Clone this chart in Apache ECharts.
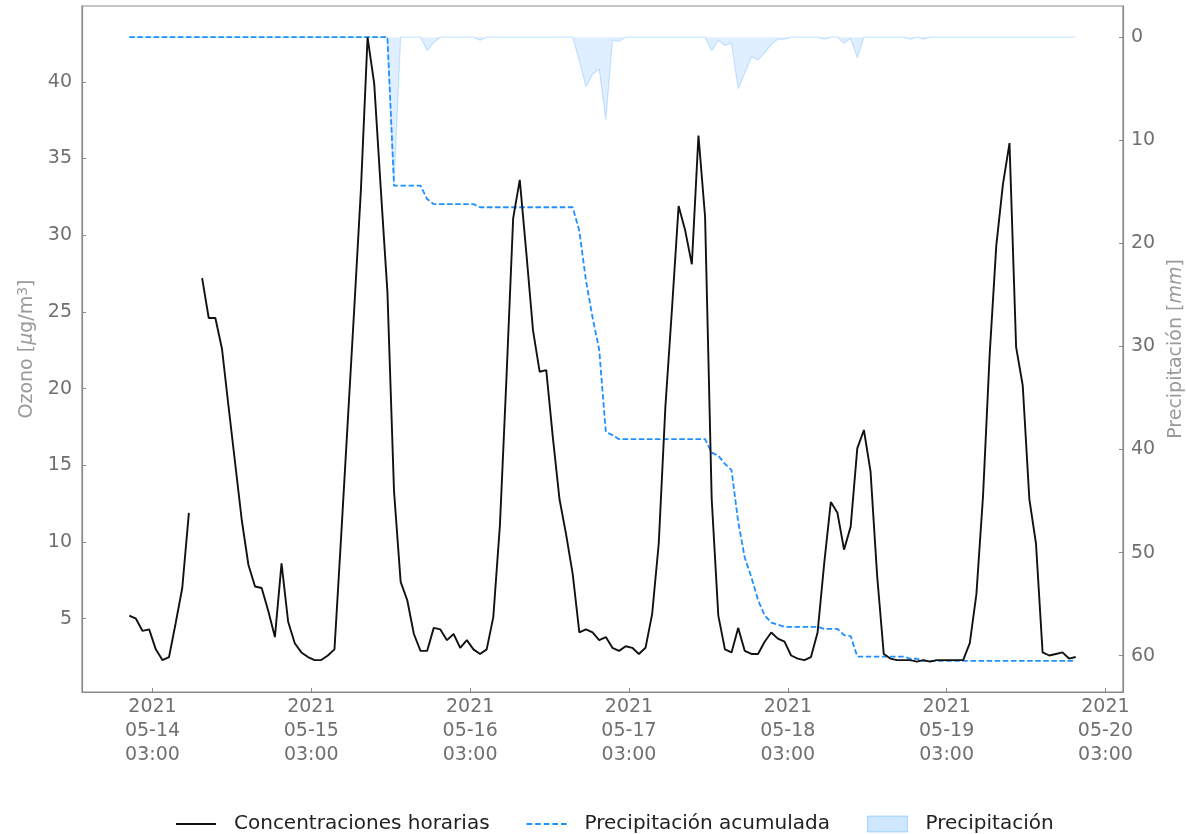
<!DOCTYPE html>
<html><head><meta charset="utf-8">
<script src="https://cdn.jsdelivr.net/npm/echarts@6/dist/echarts.min.js"></script>
<style>html,body{margin:0;padding:0;background:#fff}#c{width:1186px;height:834px}</style>
</head><body><div id="c"></div><script>
// hours since 2021-05-14 00:00 of first hourly sample
const firstHour = -0.5;
const tickHours = [3, 27, 51, 75, 99, 123, 147];
const tickLabels = ['2021\n05-14\n03:00', '2021\n05-15\n03:00', '2021\n05-16\n03:00', '2021\n05-17\n03:00', '2021\n05-18\n03:00', '2021\n05-19\n03:00', '2021\n05-20\n03:00'];
const ozoneTicks = [5, 10, 15, 20, 25, 30, 35, 40];
const precipTicks = [0, 10, 20, 30, 40, 50, 60];

const ozone = [
  5.2, 5.0, 4.2, 4.3, 3.0, 2.3, 2.5, 4.7, 7.0, 11.9,
  null, 27.2, 24.6, 24.6, 22.6, 18.8, 15.1, 11.4, 8.5, 7.1,
  7.0, 5.5, 3.8, 8.6, 4.8, 3.4, 2.8, 2.5, 2.3, 2.3,
  2.6, 3.0, 10.3, 17.8, 25.3, 33.0, 42.9, 39.9, 33.0, 26.3,
  13.3, 7.4, 6.2, 4.0, 2.9, 2.9, 4.4, 4.3, 3.6, 4.0,
  3.1, 3.6, 3.0, 2.7, 3.0, 5.1, 11.1, 20.8, 31.1, 33.6,
  28.8, 23.8, 21.1, 21.2, 16.8, 12.8, 10.5, 7.9, 4.1, 4.3,
  4.1, 3.6, 3.8, 3.1, 2.9, 3.2, 3.1, 2.7, 3.1, 5.3,
  9.9, 18.8, 25.2, 31.9, 30.3, 28.1, 36.5, 31.2, 12.8, 5.2,
  3.0, 2.8, 4.4, 2.9, 2.7, 2.7, 3.5, 4.1, 3.7, 3.5,
  2.6, 2.4, 2.3, 2.5, 4.1, 8.6, 12.6, 11.9, 9.5, 11.0,
  16.1, 17.3, 14.6, 7.8, 2.7, 2.4, 2.3, 2.3, 2.3, 2.2,
  2.3, 2.2, 2.3, 2.3, 2.3, 2.3, 2.3, 3.4, 6.6, 13.0,
  22.2, 29.3, 33.3, 36.0, 22.7, 20.2, 12.8, 9.9, 2.8, 2.6,
  2.7, 2.8, 2.4, 2.5
];

const precipAcum = [
  0, 0, 0, 0, 0, 0, 0, 0, 0, 0,
  0, 0, 0, 0, 0, 0, 0, 0, 0, 0,
  0, 0, 0, 0, 0, 0, 0, 0, 0, 0,
  0, 0, 0, 0, 0, 0, 0, 0, 0, 0,
  14.4, 14.4, 14.4, 14.4, 14.4, 15.7, 16.2, 16.2, 16.2, 16.2,
  16.2, 16.2, 16.2, 16.5, 16.5, 16.5, 16.5, 16.5, 16.5, 16.5,
  16.5, 16.5, 16.5, 16.5, 16.5, 16.5, 16.5, 16.5, 18.8, 23.6,
  27.2, 30.3, 38.3, 38.6, 39.0, 39.0, 39.0, 39.0, 39.0, 39.0,
  39.0, 39.0, 39.0, 39.0, 39.0, 39.0, 39.0, 39.0, 40.3, 40.6,
  41.4, 42.0, 47.0, 50.5, 52.4, 54.6, 56.1, 56.8, 57.0, 57.2,
  57.2, 57.2, 57.2, 57.2, 57.2, 57.4, 57.4, 57.4, 58.0, 58.1,
  60.1, 60.1, 60.1, 60.1, 60.1, 60.1, 60.1, 60.1, 60.3, 60.3,
  60.5, 60.5, 60.5, 60.5, 60.5, 60.5, 60.5, 60.5, 60.5, 60.5,
  60.5, 60.5, 60.5, 60.5, 60.5, 60.5, 60.5, 60.5, 60.5, 60.5,
  60.5, 60.5, 60.5, 60.5
];

const precipHora = [
  0, 0, 0, 0, 0, 0, 0, 0, 0, 0,
  0, 0, 0, 0, 0, 0, 0, 0, 0, 0,
  0, 0, 0, 0, 0, 0, 0, 0, 0, 0,
  0, 0, 0, 0, 0, 0, 0, 0, 0, 0,
  14.4, 0, 0, 0, 0, 1.3, 0.5, 0, 0, 0,
  0, 0, 0, 0.3, 0, 0, 0, 0, 0, 0,
  0, 0, 0, 0, 0, 0, 0, 0, 2.3, 4.8,
  3.6, 3.1, 8.0, 0.3, 0.4, 0, 0, 0, 0, 0,
  0, 0, 0, 0, 0, 0, 0, 0, 1.3, 0.3,
  0.8, 0.6, 5.0, 3.5, 1.9, 2.2, 1.5, 0.7, 0.2, 0.2,
  0, 0, 0, 0, 0, 0.2, 0, 0, 0.6, 0.1,
  2.0, 0, 0, 0, 0, 0, 0, 0, 0.2, 0,
  0.2, 0, 0, 0, 0, 0, 0, 0, 0, 0,
  0, 0, 0, 0, 0, 0, 0, 0, 0, 0,
  0, 0, 0, 0
];

const names = ['Concentraciones horarias', 'Precipitación acumulada', 'Precipitación'];

const pairs = arr => arr.map((v, i) => [firstHour + i, v]);

const axisGray = '#8a8a8a';
const labelGray = '#707070';
const nameGray = '#9a9a9a';
const font = 'DejaVu Sans';

const solidIcon = 'path://M0,0h40v2h-40z';
const dashIcon = 'path://M0,0h5.5v2h-5.5zM8.5,0h5.5v2h-5.5zM17,0h5.5v2h-5.5zM25.5,0h5.5v2h-5.5zM34,0h5.5v2h-5.5z';

const chart = echarts.init(document.getElementById('c'), null, {renderer: 'canvas'});
chart.setOption({
  animation: false,
  backgroundColor: '#fff',
  textStyle: {fontFamily: font},
  grid: {left: 82, right: 63, top: 6, bottom: 142, show: true, borderColor: axisGray, borderWidth: 1.2,
    backgroundColor: 'transparent', containLabel: false, outerBoundsMode: 'none'},
  legend: {
    top: 809, left: 171, itemWidth: 40, itemHeight: 16, itemGap: 37,
    textStyle: {fontFamily: font, fontSize: 20, color: '#222', padding: [0, 0, 0, 13]},
    data: [
      {name: names[0], icon: solidIcon, itemStyle: {color: '#111'}},
      {name: names[1], icon: dashIcon, itemStyle: {color: '#1e90ff'}},
      {name: names[2], icon: 'rect', itemStyle: {color: 'rgba(30,144,255,0.22)', borderColor: 'rgba(30,144,255,0.3)', borderWidth: 1}}
    ]
  },
  xAxis: {
    type: 'value', min: -7.65, max: 149.65,
    axisLine: {show: true, onZero: false, lineStyle: {color: axisGray, width: 1.2}},
    splitLine: {show: false},
    axisTick: {show: true, inside: true, length: 4, customValues: tickHours, lineStyle: {color: axisGray}},
    axisLabel: {
      customValues: tickHours, margin: 3, fontSize: 19, lineHeight: 24, color: labelGray, fontFamily: font,
      formatter: v => { const k = tickHours.indexOf(v); return k >= 0 ? tickLabels[k] : ''; }
    }
  },
  yAxis: [
    {
      type: 'value', position: 'left', min: 0.22, max: 44.94,
      name: 'Ozono [{i|μ}g/m{s|3}]', nameLocation: 'middle', nameGap: 43, nameRotate: 90,
      nameTextStyle: {fontSize: 19, color: nameGray, fontFamily: font,
        rich: {i: {fontStyle: 'italic', fontSize: 19, color: nameGray, fontFamily: font}, s: {fontSize: 14, color: nameGray, verticalAlign: 'top', padding: [0, 0, 8, 0], fontFamily: font}}},
      axisLine: {show: true, onZero: false, lineStyle: {color: axisGray, width: 1.2}},
      splitLine: {show: false},
      axisTick: {show: true, inside: true, length: 4, customValues: ozoneTicks, lineStyle: {color: axisGray}},
      axisLabel: {customValues: ozoneTicks, margin: 10, fontSize: 19, color: labelGray, fontFamily: font}
    },
    {
      type: 'value', position: 'right', inverse: true, min: -3.025, max: 63.525,
      name: 'Precipitación [{i|mm}]', nameLocation: 'middle', nameGap: 41, nameRotate: 90,
      nameTextStyle: {fontSize: 19, color: nameGray, fontFamily: font,
        rich: {i: {fontStyle: 'italic', fontSize: 19, color: nameGray, fontFamily: font}}},
      axisLine: {show: true, onZero: false, lineStyle: {color: axisGray, width: 1.2}},
      splitLine: {show: false},
      axisTick: {show: true, inside: true, length: 4, customValues: precipTicks, lineStyle: {color: axisGray}},
      axisLabel: {customValues: precipTicks, margin: 8, fontSize: 19, color: labelGray, fontFamily: font}
    }
  ],
  series: [
    {
      name: names[2], type: 'line', yAxisIndex: 1, data: pairs(precipHora),
      symbol: 'none', z: 1,
      itemStyle: {color: 'rgba(30,144,255,0.22)'},
      lineStyle: {color: 'rgba(30,144,255,0.22)', width: 1.2},
      areaStyle: {color: 'rgba(30,144,255,0.2)', origin: 'auto'}
    },
    {
      name: names[1], type: 'line', yAxisIndex: 1, data: pairs(precipAcum),
      symbol: 'none', z: 2,
      itemStyle: {color: '#1e90ff'},
      lineStyle: {color: '#1e90ff', width: 1.8, type: [5.5, 2.6]}
    },
    {
      name: names[0], type: 'line', yAxisIndex: 0, data: pairs(ozone),
      symbol: 'none', z: 3, connectNulls: false,
      itemStyle: {color: '#111'},
      lineStyle: {color: '#111', width: 1.9}
    }
  ]
});
</script></body></html>
